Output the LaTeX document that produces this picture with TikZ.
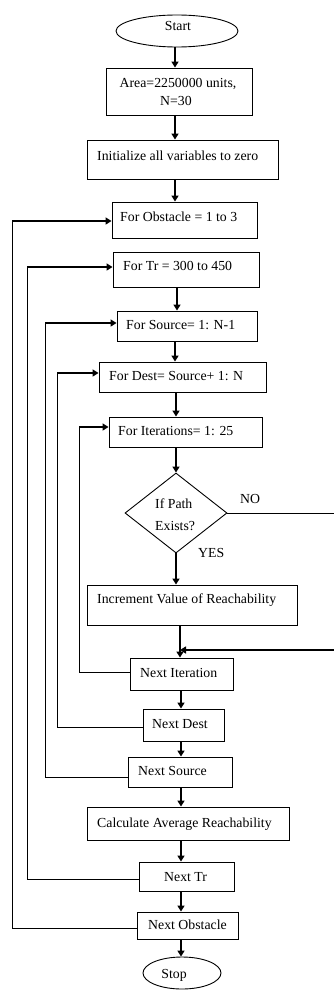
\documentclass[tikz,border=0pt]{standalone}
\usepackage{fontspec}
\setmainfont{Liberation Serif}
\usetikzlibrary{shapes.geometric,arrows.meta}
\begin{document}
\begin{tikzpicture}[x=1pt,y=-1pt,
  box/.style={draw, line width=0.9pt, rectangle, inner sep=0pt},
  oval/.style={draw, line width=0.9pt, ellipse, inner sep=0pt},
  lbl/.style={anchor=base west, inner sep=0pt, font=\fontsize{13.8}{16}\selectfont},
  clbl/.style={anchor=base, inner sep=0pt, font=\fontsize{13.8}{16}\selectfont},
  arr/.style={line width=1.7pt, -{Triangle[length=6pt,width=7pt]}},
  thinline/.style={line width=0.9pt},
  feed/.style={line width=1.7pt, -{Triangle[length=6pt,width=7pt]}}]
\useasboundingbox (0,0) rectangle (334,990);
\clip (0,0) rectangle (334,990);
\fill[white] (0,0) rectangle (334,990);

% shapes
\node[oval, minimum width=122pt, minimum height=32pt] (start) at (177,31) {};
\node[box, minimum width=146pt, minimum height=47pt] (area) at (179,91.5) {};
\node[box, minimum width=191pt, minimum height=39pt] (init) at (182.5,159.5) {};
\node[box, minimum width=145pt, minimum height=36pt] (obs) at (184.5,220) {};
\node[box, minimum width=146pt, minimum height=35pt] (tr) at (186,269.5) {};
\node[box, minimum width=140pt, minimum height=30pt] (src) at (187,326) {};
\node[box, minimum width=167pt, minimum height=30pt] (dest) at (182.5,377) {};
\node[box, minimum width=153pt, minimum height=30pt] (iter) at (185.5,432) {};
\node[draw, line width=0.9pt, diamond, inner sep=0pt, aspect=1.275, minimum width=102pt, minimum height=80pt] (dia) at (176,513) {};
\node[box, minimum width=210pt, minimum height=40pt] (incr) at (192,605) {};
\node[box, minimum width=103pt, minimum height=32pt] (nit) at (181.5,674) {};
\node[box, minimum width=81pt, minimum height=32pt] (ndest) at (183.5,725) {};
\node[box, minimum width=104pt, minimum height=30pt] (nsrc) at (180,772) {};
\node[box, minimum width=202pt, minimum height=33pt] (calc) at (188,823.5) {};
\node[box, minimum width=95pt, minimum height=29pt] (ntr) at (186.5,876.5) {};
\node[box, minimum width=101pt, minimum height=27pt] (nobs) at (187.5,925.5) {};
\node[oval, minimum width=78pt, minimum height=32pt] (stop) at (182,973) {};

% texts
\node[clbl] (tstart) at (178,31) {Start};
\node[clbl] (tarea1) at (178,88) {Area=2250000 units,};
\node[clbl] (tarea2) at (176,105) {N=30};
\node[lbl] (tinit) at (97,160) {Initialize all variables to zero};
\node[lbl] (tobs) at (120,221) {For Obstacle = 1 to 3};
\node[lbl] (ttr) at (123,270) {For Tr = 300 to 450};
\node[lbl] (tsrc) at (126,329) {For Source= 1: N-1};
\node[lbl] (tdest) at (109,380) {For Dest= Source+ 1: N};
\node[lbl] (titer) at (118,435) {For Iterations= 1: 25};
\node[lbl] (tdia1) at (155,508) {If Path};
\node[lbl] (tdia2) at (155,530) {Exists?};
\node[lbl] (tno) at (240,503) {NO};
\node[lbl] (tyes) at (198,557) {YES};
\node[lbl] (tincr) at (97,603) {Increment Value of Reachability};
\node[lbl] (tnit) at (140,677) {Next Iteration};
\node[lbl] (tndest) at (152,728) {Next Dest};
\node[lbl] (tnsrc) at (138,775) {Next Source};
\node[lbl] (tcalc) at (97,827) {Calculate Average Reachability};
\node[lbl] (tntr) at (164,881) {Next Tr};
\node[lbl] (tnobs) at (148,929) {Next Obstacle};
\node[clbl] (tstop) at (174,978) {Stop};

% arrow x positions
\coordinate (a175) at (175,0);
\coordinate (a177) at (177,0);
\coordinate (a180) at (180,0);
\coordinate (a181) at (181,0);

\draw[arr] (start.south -| a175) -- (area.north -| a175);
\draw[arr] (area.south -| a175) -- (init.north -| a175);
\draw[arr] (init.south -| a175) -- (obs.north -| a175);
\draw[arr] (tr.south -| a177) -- (src.north -| a177);
\draw[arr] (src.south -| a175) -- (dest.north -| a175);
\draw[arr] (dest.south -| dia.north) -- (iter.north -| dia.north);
\draw[arr] (iter.south -| dia.north) -- (dia.north);
\draw[arr] (dia.south) -- (incr.north -| dia.south);
\draw[arr] (incr.south -| a180) -- (nit.north -| a180);
\draw[arr] (nit.south -| a181) -- (ndest.north -| a181);
\draw[arr] (ndest.south -| a181) -- (nsrc.north -| a181);
\draw[arr] (nsrc.south -| a181) -- (calc.north -| a181);
\draw[arr] (calc.south -| a181) -- (ntr.north -| a181);
\draw[arr] (ntr.south -| a181) -- (nobs.north -| a181);
\draw[arr] (nobs.south -| a181) -- (stop.north -| a181);

% NO branch
\coordinate (r1) at (345,513);
\coordinate (r2) at (345,650);
\coordinate (m) at (180,650);
\draw[thinline] (dia.east) -- (r1) -- (r2);
\draw[arr] (r2) -- (m);

% loop-back lines
\coordinate (lx1) at (12,0);
\coordinate (lx2) at (27,0);
\coordinate (lx3) at (45,0);
\coordinate (lx4) at (57,0);
\coordinate (lx5) at (79,0);

\draw[thinline] ([yshift=2pt]nit.west) -| ([yshift=5pt]iter.west -| lx5);
\draw[feed] ([yshift=5pt]iter.west -| lx5) -- ([yshift=5pt]iter.west);

\draw[thinline] ([yshift=-2pt]ndest.west) -| ([yshift=4pt]dest.west -| lx4);
\draw[feed] ([yshift=4pt]dest.west -| lx4) -- ([yshift=4pt]dest.west);

\draw[thinline] ([yshift=-5pt]nsrc.west) -| ([yshift=3pt]src.west -| lx3);
\draw[feed] ([yshift=3pt]src.west -| lx3) -- ([yshift=3pt]src.west);

\draw[thinline] ([yshift=-2.5pt]ntr.west) -| ([yshift=2.5pt]tr.west -| lx2);
\draw[feed] ([yshift=2.5pt]tr.west -| lx2) -- ([yshift=2.5pt]tr.west);

\draw[thinline] ([yshift=-2.5pt]nobs.west) -| ([yshift=-1pt]obs.west -| lx1);
\draw[feed] ([yshift=-1pt]obs.west -| lx1) -- ([yshift=-1pt]obs.west);
\end{tikzpicture}
\end{document}
